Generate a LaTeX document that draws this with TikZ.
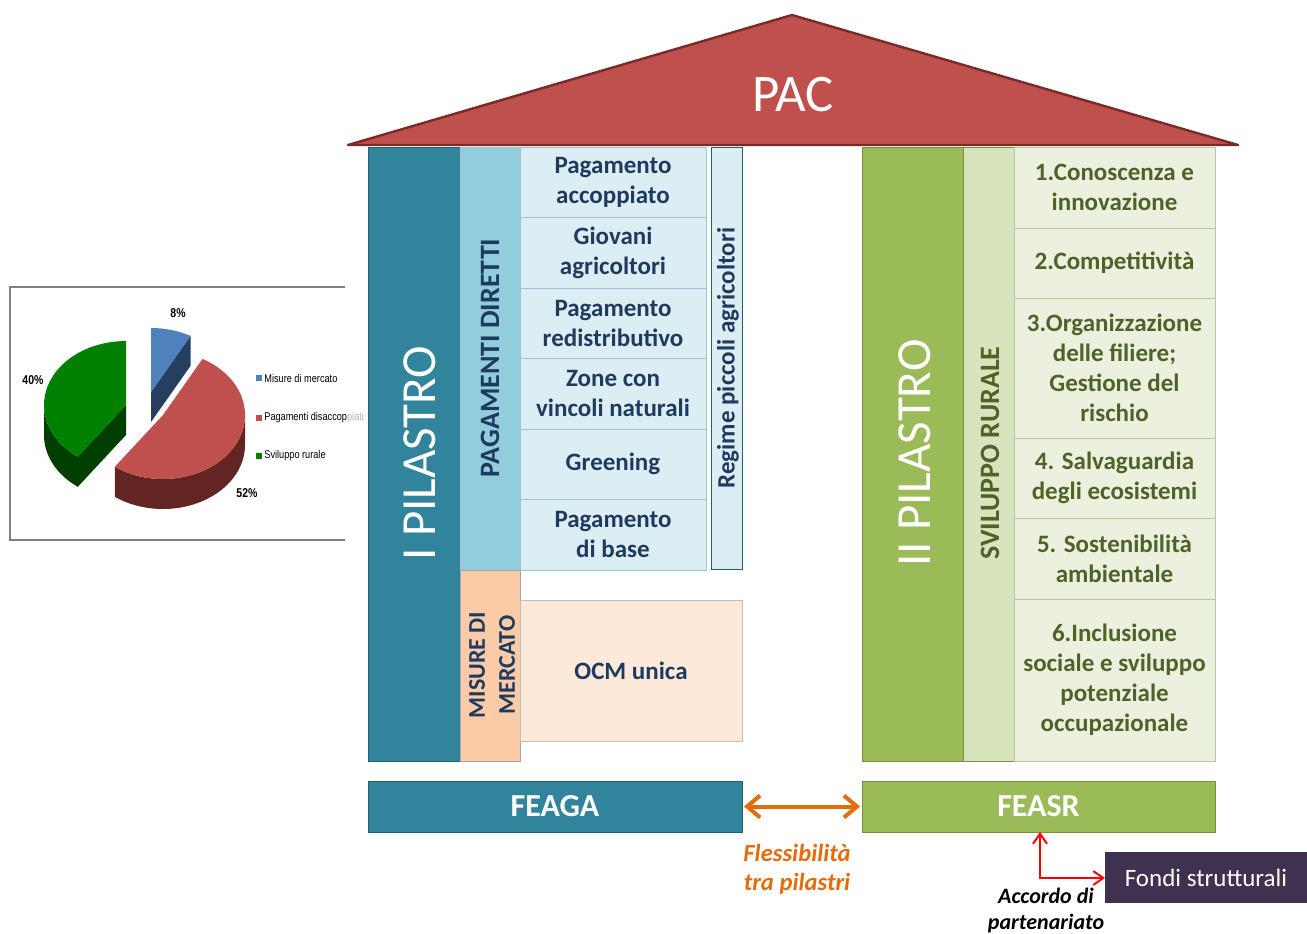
\documentclass[tikz,border=0pt]{standalone}
\usepackage{fontspec}
\setmainfont{Carlito}
\newfontfamily\chartfont[FakeStretch=0.82]{Liberation Sans}
\usetikzlibrary{arrows.meta,positioning}

\definecolor{pilteal}{HTML}{31849B}
\definecolor{tealedge}{HTML}{245F70}
\definecolor{pdblue}{HTML}{92CDDC}
\definecolor{palecell}{HTML}{DBEEF4}
\definecolor{cellline}{HTML}{A3C4CF}
\definecolor{navytext}{HTML}{1F3A5F}
\definecolor{peach}{HTML}{FBCBA7}
\definecolor{ocmfill}{HTML}{FDE9D9}
\definecolor{pilgreen}{HTML}{9BBB59}
\definecolor{greenedge}{HTML}{76923C}
\definecolor{svilgreen}{HTML}{D7E4BD}
\definecolor{palegreen}{HTML}{EBF1DE}
\definecolor{greenline}{HTML}{B5C99A}
\definecolor{olivetext}{HTML}{4F6228}
\definecolor{roofred}{HTML}{C0504D}
\definecolor{roofedge}{HTML}{7B2A27}
\definecolor{fondipurple}{HTML}{403151}
\definecolor{flexorange}{HTML}{E46C0A}
\definecolor{blueslice}{HTML}{4F81BD}
\definecolor{bluedark}{HTML}{243F60}
\definecolor{redslice}{HTML}{C0504D}
\definecolor{reddark}{HTML}{632523}
\definecolor{greenslice}{HTML}{008000}
\definecolor{greendark}{HTML}{003F00}

\tikzset{
  box/.style={rectangle, inner sep=0pt, outer sep=0pt, line width=0.5pt, anchor=north west},
  pillar/.style={box, minimum height=307pt},
  pillartext/.style={rotate=90, text=white, font=\fontsize{24.5}{28}\selectfont},
  bandtext/.style={rotate=90, font=\bfseries\fontsize{14}{16}\selectfont},
  pdcell/.style={box, draw=cellline, fill=palecell, text=navytext, minimum width=93pt,
    minimum height=35.25pt, align=center, font=\bfseries\fontsize{12.5}{15}\selectfont},
  srcell/.style={box, draw=greenline, fill=palegreen, text=olivetext, minimum width=100.5pt,
    align=center, font=\bfseries\fontsize{12.5}{15}\selectfont},
  fund/.style={box, minimum height=25.5pt, text=white, font=\bfseries\fontsize{16}{19}\selectfont},
  flexarrow/.style={draw=flexorange, line width=2pt, shorten <=1pt, shorten >=1pt,
    {Straight Barb[length=6.5pt,width=11pt]}-{Straight Barb[length=6.5pt,width=11pt]}},
  accarrow/.style={draw=red, line width=1pt,
    {Straight Barb[length=5pt,width=7pt]}-{Straight Barb[length=5pt,width=7pt]}},
  pielabel/.style={font=\chartfont\bfseries\fontsize{6.4}{7}\selectfont},
  legtext/.style={anchor=west, inner sep=0pt, font=\chartfont\fontsize{5.6}{7}\selectfont}
}

\begin{document}
\begin{tikzpicture}[x=0.5pt,y=-0.5pt]
\useasboundingbox (0,0) rectangle (1307,933);

% tetto
\draw[fill=roofred, draw=roofedge, line width=1.2pt, line join=round] (348,145) -- (792,15) -- (1238,145) -- cycle;
\node[text=white, font=\fontsize{26.4}{30}\selectfont] (pac) at (793,95) {PAC};

% primo pilastro
\node[pillar, fill=pilteal, draw=tealedge, minimum width=46pt] (pil1) at (368,147) {};
\node[pillartext] (pil1txt) at (420,453) {I PILASTRO};
\node[box, fill=pdblue, draw=cellline, minimum width=30pt, minimum height=211.5pt] (pagdir) at (460,147) {};
\node[bandtext, text=navytext] (pagdirtxt) at (490,358) {PAGAMENTI DIRETTI};
\node[box, fill=peach, draw=gray!70, minimum width=30pt, minimum height=95.5pt] (misure) at (460,570) {};
\node[bandtext, text=navytext, align=center, font=\bfseries\fontsize{12}{15}\selectfont] (misuretxt) at (492,665) {MISURE DI\\MERCATO};

\node[pdcell] (pd1) at (520,147) {Pagamento\\accoppiato};
\node[pdcell, below=0pt of pd1] (pd2) {Giovani\\agricoltori};
\node[pdcell, below=0pt of pd2] (pd3) {Pagamento\\redistributivo};
\node[pdcell, below=0pt of pd3] (pd4) {Zone con\\vincoli naturali};
\node[pdcell, below=0pt of pd4] (pd5) {Greening};
\node[pdcell, below=0pt of pd5] (pd6) {Pagamento\\di base};

\node[box, fill=palecell, draw=tealedge, minimum width=15.5pt, minimum height=211pt] (regime) at (711,147) {};
\node[rotate=90, text=navytext, font=\bfseries\fontsize{12.5}{15}\selectfont] (regimetxt) at (728,358) {Regime piccoli agricoltori};

\node[box, fill=ocmfill, draw=gray!50, minimum width=111pt, minimum height=70.5pt,
  text=navytext, font=\bfseries\fontsize{12.5}{15}\selectfont] (ocm) at (520,600) {OCM unica};

% secondo pilastro
\node[pillar, fill=pilgreen, draw=greenedge, minimum width=50.5pt] (pil2) at (862,147) {};
\node[pillartext] (pil2txt) at (915,453) {II PILASTRO};
\node[pillar, fill=svilgreen, draw=greenedge, minimum width=25.5pt] (svil) at (963,147) {};
\node[bandtext, text=olivetext] (sviltxt) at (990,453) {SVILUPPO RURALE};

\node[srcell, minimum height=40.5pt] (sr1) at (1014,147) {1.Conoscenza e\\innovazione};
\node[srcell, minimum height=35pt, below=0pt of sr1] (sr2) {2.Competitività};
\node[srcell, minimum height=70pt, below=0pt of sr2] (sr3) {3.Organizzazione\\delle filiere;\\Gestione del\\rischio};
\node[srcell, minimum height=40pt, below=0pt of sr3] (sr4) {4. Salvaguardia\\degli ecosistemi};
\node[srcell, minimum height=40.5pt, below=0pt of sr4] (sr5) {5. Sostenibilità\\ambientale};
\node[srcell, minimum height=81pt, below=0pt of sr5] (sr6) {6.Inclusione\\sociale e sviluppo\\potenziale\\occupazionale};

% fondi
\node[fund, fill=pilteal, draw=tealedge, minimum width=187pt] (feaga) at (368,781) {FEAGA};
\node[fund, fill=pilgreen, draw=greenedge, minimum width=176.5pt] (feasr) at (862,781) {FEASR};
\node[box, fill=fondipurple, minimum width=101pt, minimum height=25.5pt, text=white,
  font=\fontsize{12.5}{15}\selectfont] (fondi) at (1105,852) {Fondi strutturali};

\draw[flexarrow] (feaga) -- (feasr);
\node[text=flexorange, align=center, font=\bfseries\itshape\fontsize{12.3}{14.5}\selectfont] (flex) at (797,869) {Flessibilità\\tra pilastri};

\coordinate (elbow) at (1040,878);
\draw[accarrow] (elbow |- feasr.south) -- (elbow) -- (fondi.west |- elbow);
\node[align=center, font=\bfseries\itshape\fontsize{11}{13}\selectfont] (accordo) at (1046,910) {Accordo di\\partenariato};

% grafico a torta
\draw[gray, line width=0.6pt] (345,287) -- (10,287) -- (10,540) -- (345,540);

\fill[bluedark] (151,392) -- ({151+82*sin(28.8)},{392-64*cos(28.8)}) -- ++(0,30) -- (151,422) -- cycle;
\fill[blueslice] (151,392) -- plot[domain=0:28.8, samples=20] ({151+82*sin(\x)},{392-64*cos(\x)}) -- cycle;

\fill[reddark] plot[domain=90:216, samples=40] ({163+82*sin(\x)},{415-64*cos(\x)})
  -- plot[domain=216:90, samples=40] ({163+82*sin(\x)},{445-64*cos(\x)}) -- cycle;
\fill[redslice] (163,415) -- plot[domain=28.8:216, samples=60] ({163+82*sin(\x)},{415-64*cos(\x)}) -- cycle;

\fill[greendark] plot[domain=216:270, samples=20] ({126+82*sin(\x)},{405-64*cos(\x)})
  -- plot[domain=270:216, samples=20] ({126+82*sin(\x)},{435-64*cos(\x)}) -- cycle;
\fill[greendark] (126,405) -- ({126+82*sin(216)},{405-64*cos(216)}) -- ++(0,30) -- (126,435) -- cycle;
\fill[greenslice] (126,405) -- plot[domain=216:360, samples=40] ({126+82*sin(\x)},{405-64*cos(\x)}) -- cycle;

\node[pielabel] (p8) at (178,313) {8\%};
\node[pielabel] (p40) at (33,380) {40\%};
\node[pielabel] (p52) at (247,493) {52\%};

\fill[blueslice] (256,375) rectangle (262,381);
\node[legtext] (leg1) at (264,378) {Misure di mercato};
\fill[redslice] (256,415) rectangle (262,421);
\node[legtext] (leg2) at (264,418) {Pagamenti disaccop{\color{gray!60}piati}};
\fill[greenslice] (256,453) rectangle (262,459);
\node[legtext] (leg3) at (264,456) {Sviluppo rurale};
\end{tikzpicture}
\end{document}
